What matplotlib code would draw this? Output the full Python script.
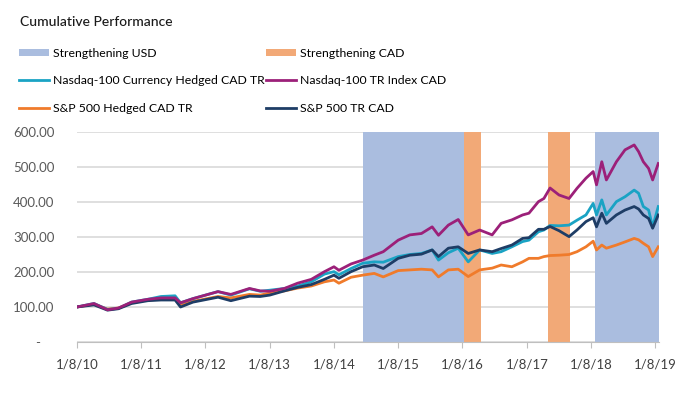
import pandas as pd
import matplotlib
matplotlib.use("Agg")
import matplotlib.pyplot as plt
from matplotlib.patches import Patch
from matplotlib.lines import Line2D

plt.rcParams['font.family'] = ['Lato', 'DejaVu Sans']

dates = ["2010-01-08", "2010-04-15", "2010-07-01", "2010-09-01", "2010-11-15",
         "2011-02-15", "2011-05-01", "2011-07-20", "2011-08-20", "2011-10-30",
         "2012-03-20", "2012-06-01", "2012-09-15", "2012-11-15", "2013-01-08",
         "2013-04-01", "2013-06-15", "2013-09-01", "2013-11-15", "2014-01-08",
         "2014-02-05", "2014-04-15", "2014-06-20", "2014-08-25", "2014-10-15",
         "2015-01-08", "2015-03-15", "2015-05-20", "2015-07-20", "2015-08-25",
         "2015-10-20", "2015-12-15", "2016-02-10", "2016-04-15", "2016-06-25",
         "2016-08-15", "2016-10-15", "2016-12-15", "2017-01-20", "2017-03-15",
         "2017-04-15", "2017-05-20", "2017-07-10", "2017-09-05", "2017-10-20",
         "2017-12-10", "2018-01-20", "2018-02-08", "2018-03-10", "2018-04-05",
         "2018-06-01", "2018-07-20", "2018-09-10", "2018-10-05", "2018-11-01",
         "2018-12-01", "2018-12-24", "2019-01-25"]

ndx_cad = [100, 110, 92, 97, 114, 122, 126, 126, 112, 124,
           144, 136, 153, 146, 145, 153, 168, 179, 201, 215,
           205, 223, 234, 248, 258, 291, 306, 310, 329, 305,
           334, 350, 306, 320, 306, 339, 349, 363, 368, 401,
           410, 440, 420, 410, 439, 468, 487, 449, 515, 463,
           515, 549, 563, 544, 515, 496, 463, 510]
ndx_hedged = [100, 110, 93, 96, 114, 122, 130, 132, 112, 124,
              144, 134, 152, 145, 148, 153, 160, 172, 194, 201,
              192, 210, 225, 229, 228, 244, 250, 253, 263, 234,
              255, 268, 229, 263, 253, 258, 272, 287, 291, 315,
              320, 333, 332, 334, 348, 363, 396, 363, 406, 363,
              401, 415, 434, 425, 387, 377, 329, 387]
spx_hedged = [100, 108, 94, 97, 112, 120, 122, 124, 108, 116,
              130, 126, 136, 134, 140, 146, 154, 160, 172, 177,
              168, 185, 191, 196, 186, 204, 206, 208, 206, 186,
              206, 208, 187, 206, 211, 220, 215, 229, 239, 239,
              244, 247, 248, 250, 258, 272, 288, 263, 277, 268,
              277, 286, 296, 292, 282, 272, 244, 272]
spx_cad = [100, 106, 91, 95, 110, 118, 120, 120, 100, 114,
           128, 118, 131, 130, 134, 146, 156, 164, 179, 191,
           182, 201, 215, 220, 210, 239, 248, 251, 263, 244,
           268, 272, 253, 263, 258, 267, 277, 296, 298, 322,
           322, 330, 318, 301, 320, 344, 355, 329, 368, 339,
           363, 377, 387, 380, 363, 353, 325, 363]

usd_periods = [("2014-06-20", "2016-01-15"), ("2018-01-28", "2019-01-30")]
cad_periods = [("2016-01-15", "2016-04-25"), ("2017-05-10", "2017-09-10")]

x = pd.to_datetime(dates)

blue_band = "#AABDDF"
orange_band = "#F2A977"
c_ndx_h = "#1AA3C4"
c_ndx = "#9C2079"
c_spx_h = "#F07B2B"
c_spx = "#1E3D66"

fig = plt.figure(figsize=(6.99, 4.0), dpi=100)
ax = fig.add_axes([0.110, 0.145, 0.833, 0.525])

for a, b in usd_periods:
    ax.axvspan(pd.Timestamp(a), pd.Timestamp(b), color=blue_band, lw=0, zorder=1)
for a, b in cad_periods:
    ax.axvspan(pd.Timestamp(a), pd.Timestamp(b), color=orange_band, lw=0, zorder=1)

ax.plot(x, spx_hedged, color=c_spx_h, lw=2, zorder=3)
ax.plot(x, ndx_hedged, color=c_ndx_h, lw=2, zorder=4)
ax.plot(x, spx_cad, color=c_spx, lw=2, zorder=5)
ax.plot(x, ndx_cad, color=c_ndx, lw=2, zorder=6)

ax.set_ylim(0, 600)
ax.set_xlim(pd.Timestamp("2010-01-08"), pd.Timestamp("2019-01-30"))
ax.set_yticks(range(0, 601, 100))
ax.set_yticklabels(["-    "] + ["%.2f" % v for v in range(100, 601, 100)])
ax.yaxis.grid(True, color="#D9D9D9", lw=1.2, zorder=0)
ax.set_axisbelow(True)

xt = pd.to_datetime(["20%02d-01-08" % y for y in range(10, 20)])
ax.set_xticks(xt)
ax.set_xticklabels(["1/8/%02d" % y for y in range(10, 20)])

for s in ["top", "right", "left"]:
    ax.spines[s].set_visible(False)
ax.spines["bottom"].set_color("#BFBFBF")
ax.tick_params(axis="y", length=0, pad=16, labelsize=9.5, labelcolor="#595959")
ax.tick_params(axis="x", length=4, color="#BFBFBF", pad=8, labelsize=9.5,
               labelcolor="#404040")

fig.text(20 / 699, 1 - 22 / 400, "Cumulative Performance", fontsize=10,
         color="#1a1a1a", va="center", ha="left", fontweight="medium")

col1 = [Patch(facecolor=blue_band, label="Strengthening USD"),
        Line2D([], [], color=c_ndx_h, lw=2, label="Nasdaq-100 Currency Hedged CAD TR"),
        Line2D([], [], color=c_spx_h, lw=2, label="S&P 500 Hedged CAD TR")]
col2 = [Patch(facecolor=orange_band, label="Strengthening CAD"),
        Line2D([], [], color=c_ndx, lw=2, label="Nasdaq-100 TR Index CAD"),
        Line2D([], [], color=c_spx, lw=2, label="S&P 500 TR CAD")]
for handles, xpos in [(col1, 14 / 699), (col2, 261 / 699)]:
    fig.legend(handles=handles, loc="upper left", bbox_to_anchor=(xpos, 1 - 43 / 400),
               frameon=False, fontsize=8.8, handlelength=2.5, handleheight=0.6,
               handletextpad=0.3, labelspacing=1.35, borderaxespad=0)

fig.savefig("out.png", dpi=100)
